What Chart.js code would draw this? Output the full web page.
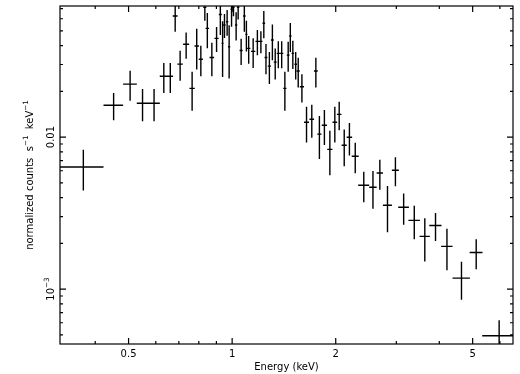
<!DOCTYPE html>
<html>
<head>
<meta charset="utf-8">
<script src="https://cdn.jsdelivr.net/npm/chart.js@4/dist/chart.umd.min.js"></script>
<style>
html,body{margin:0;padding:0;background:#fff;}
#wrap{width:520px;height:374px;position:relative;}
</style>
</head>
<body>
<div id="wrap"><canvas id="c" width="520" height="374"></canvas></div>
<script>
// ---- data (energy in keV, normalized counts s^-1 keV^-1) ----
const energy = [0.3694,0.4524,0.5052,0.549,0.593,0.633,0.661,0.683,0.706,0.735,
  0.765,0.789,0.811,0.833,0.847,0.873,0.901,0.924,0.938,0.950,
  0.967,0.980,0.996,1.009,1.027,1.041,1.062,1.085,1.100,1.117,
  1.151,1.184,1.212,1.236,1.254,1.283,1.309,1.334,1.362,1.393,
  1.423,1.455,1.476,1.501,1.530,1.556,1.595,1.645,1.704,1.751,
  1.793,1.854,1.923,1.988,2.047,2.117,2.192,2.279,2.413,2.566,
  2.687,2.828,2.982,3.151,3.383,3.63,3.90,4.21,4.64,5.12,5.97];
const energyErr = [0.0534,0.0296,0.0232,0.0208,0.0233,0.017,0.0124,0.0112,0.0128,0.0147,
  0.0136,0.0116,0.0111,0.0089,0.0099,0.0134,0.0127,0.0093,0.0066,0.0073,
  0.0074,0.0072,0.0073,0.0078,0.0079,0.0087,0.011,0.0094,0.0081,0.0127,
  0.0169,0.0151,0.013,0.0108,0.0118,0.0137,0.0127,0.0134,0.0146,0.0149,
  0.0152,0.0136,0.0119,0.0131,0.0133,0.0161,0.0224,0.0275,0.0262,0.0223,
  0.0252,0.0323,0.0335,0.0306,0.0315,0.0361,0.0403,0.0534,0.089,0.064,
  0.057,0.085,0.070,0.113,0.13,0.125,0.16,0.16,0.27,0.22,0.64];
const rate = [0.00635,0.0162,0.0223,0.0167,0.0167,0.0251,0.0251,0.0625,0.0302,0.0408,
  0.0209,0.0397,0.0325,0.0713,0.0519,0.0334,0.0446,0.0640,0.0413,0.0546,
  0.0574,0.0393,0.0692,0.0713,0.0546,0.0713,0.0371,0.0625,0.0474,0.0383,
  0.0366,0.0426,0.0426,0.0560,0.0334,0.0293,0.0435,0.0311,0.0355,0.0355,
  0.0209,0.0346,0.0462,0.0355,0.0301,0.0272,0.0214,0.0125,0.0131,0.0272,
  0.01046,0.01196,0.0083,0.0125,0.0141,0.00883,0.00997,0.00748,0.00482,0.00467,
  0.0058,0.00356,0.00605,0.00345,0.00283,0.00222,0.00262,0.00191,0.00118,0.00174,0.000493];
const rateErr = [0.0019,0.0033,0.0050,0.0040,0.0040,0.0056,0.0056,0.0132,0.0067,0.0080,
  0.0060,0.0119,0.0074,0.013,0.0135,0.0083,0.0084,0.017,0.0165,0.0098,
  0.011,0.015,0.016,0.009,0.0115,0.012,0.0073,0.0132,0.0108,0.0080,
  0.0081,0.0081,0.0070,0.0114,0.0075,0.0070,0.0115,0.0072,0.0072,0.0072,
  0.0060,0.0077,0.0100,0.0075,0.0062,0.0060,0.0045,0.0033,0.0032,0.0060,
  0.0033,0.0031,0.0027,0.0033,0.0030,0.0024,0.0024,0.0017,0.0011,0.0013,
  0.0013,0.0012,0.0013,0.0008,0.0007,0.0007,0.00055,0.00058,0.00033,0.00039,0.00013];

// ---- axes ----
const xRange = [0.316, 6.55];
const yRange = [4.35e-4, 0.0728];
const xMajorTicks = [0.5, 1, 2, 5];
const xTickLabels = ['0.5', '1', '2', '5'];
const xMinorTicks = [0.4, 0.6, 0.7, 0.8, 0.9, 3, 4, 6];
const yMajorTicks = [0.01, 0.001];
const yTickLabels = [[['0.01', false]], [['10', false], ['\u22123', true]]];
const xTitle = 'Energy (keV)';
const yTitle = [['normalized counts  s', false], ['\u22121', true], ['  keV', false], ['\u22121', true]];

const FONT = '"DejaVu Sans", sans-serif';

function drawRich(ctx, parts, x, y, rot, size) {
  ctx.save();
  ctx.translate(x, y);
  ctx.rotate(rot);
  ctx.textAlign = 'left';
  ctx.textBaseline = 'alphabetic';
  let total = 0;
  const ws = parts.map(p => {
    ctx.font = (p[1] ? size * 0.72 : size) + 'px ' + FONT;
    const w = ctx.measureText(p[0]).width;
    total += w;
    return w;
  });
  let cx = -total / 2;
  parts.forEach((p, i) => {
    ctx.font = (p[1] ? size * 0.72 : size) + 'px ' + FONT;
    ctx.fillText(p[0], cx, p[1] ? -size * 0.48 : 0);
    cx += ws[i];
  });
  ctx.restore();
}

const errorBars = {
  id: 'errorBars',
  afterDatasetsDraw(chart) {
    const ctx = chart.ctx, a = chart.chartArea;
    const xs = chart.scales.x, ys = chart.scales.y;
    ctx.save();
    ctx.beginPath();
    ctx.rect(a.left, a.top, a.right - a.left, a.bottom - a.top);
    ctx.clip();
    ctx.strokeStyle = '#000';
    ctx.lineWidth = 1.4;
    ctx.beginPath();
    for (let i = 0; i < energy.length; i++) {
      const px = xs.getPixelForValue(energy[i]);
      const py = ys.getPixelForValue(rate[i]);
      const x0 = xs.getPixelForValue(energy[i] - energyErr[i]);
      const x1 = xs.getPixelForValue(energy[i] + energyErr[i]);
      const lo = Math.max(rate[i] - rateErr[i], yRange[0] * 0.5);
      const y0 = ys.getPixelForValue(lo);
      const y1 = ys.getPixelForValue(rate[i] + rateErr[i]);
      ctx.moveTo(x0, py); ctx.lineTo(x1, py);
      ctx.moveTo(px, y0); ctx.lineTo(px, y1);
    }
    ctx.stroke();
    ctx.restore();
  }
};

const frame = {
  id: 'frame',
  afterDraw(chart) {
    const ctx = chart.ctx, a = chart.chartArea;
    const xs = chart.scales.x, ys = chart.scales.y;
    ctx.save();
    ctx.strokeStyle = '#000';
    ctx.fillStyle = '#000';
    ctx.lineWidth = 1.2;
    ctx.strokeRect(a.left, a.top, a.right - a.left, a.bottom - a.top);
    const MAJ = 6, MIN = 3;
    ctx.beginPath();
    const xt = (v, L) => {
      const p = xs.getPixelForValue(v);
      ctx.moveTo(p, a.bottom); ctx.lineTo(p, a.bottom - L);
      ctx.moveTo(p, a.top); ctx.lineTo(p, a.top + L);
    };
    xMajorTicks.forEach(v => xt(v, MAJ));
    xMinorTicks.forEach(v => xt(v, MIN));
    const yt = (v, L) => {
      const p = ys.getPixelForValue(v);
      ctx.moveTo(a.left, p); ctx.lineTo(a.left + L, p);
      ctx.moveTo(a.right, p); ctx.lineTo(a.right - L, p);
    };
    yMajorTicks.forEach(v => yt(v, MAJ));
    for (let d = -4; d <= -1; d++) {
      for (let m = 2; m <= 9; m++) {
        const v = m * Math.pow(10, d);
        if (v > yRange[0] && v < yRange[1]) yt(v, MIN);
      }
    }
    ctx.stroke();

    // tick labels
    ctx.font = '10px ' + FONT;
    ctx.textAlign = 'center';
    ctx.textBaseline = 'alphabetic';
    xMajorTicks.forEach((v, i) => {
      ctx.fillText(xTickLabels[i], xs.getPixelForValue(v), 357);
    });
    yMajorTicks.forEach((v, i) => {
      drawRich(ctx, yTickLabels[i], 54, ys.getPixelForValue(v), -Math.PI / 2, 10);
    });
    // titles
    ctx.font = '10px ' + FONT;
    ctx.textAlign = 'center';
    ctx.fillText(xTitle, (a.left + a.right) / 2, 370);
    drawRich(ctx, yTitle, 32.5, (a.top + a.bottom) / 2, -Math.PI / 2, 10);
    ctx.restore();
  }
};

new Chart(document.getElementById('c'), {
  type: 'scatter',
  data: {
    datasets: [{
      data: energy.map((e, i) => ({ x: e, y: rate[i] })),
      pointRadius: 0,
      showLine: false
    }]
  },
  options: {
    responsive: false,
    animation: false,
    layout: { padding: { left: 60, top: 6, right: 7, bottom: 30 } },
    scales: {
      x: { type: 'logarithmic', bounds: 'data', min: xRange[0], max: xRange[1], display: false },
      y: { type: 'logarithmic', bounds: 'data', min: yRange[0], max: yRange[1], display: false }
    },
    plugins: { legend: { display: false }, tooltip: { enabled: false } }
  },
  plugins: [errorBars, frame]
});
</script>
</body>
</html>
